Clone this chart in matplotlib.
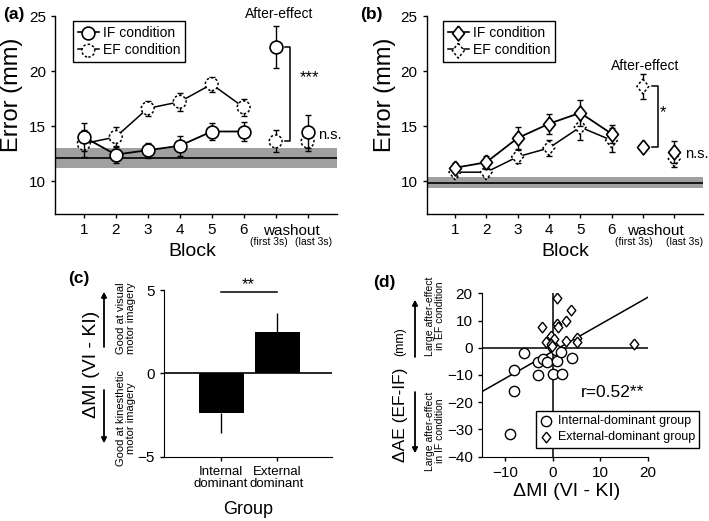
import numpy as np
import matplotlib
matplotlib.use('Agg')
from matplotlib import pyplot as plt
from matplotlib.lines import Line2D

plt.rcParams['font.family'] = ['Liberation Sans', 'DejaVu Sans']

# ---- data: panel (a), internal-dominant group (circles) ----
blocks = [1, 2, 3, 4, 5, 6]
washout_pos = [7, 8]
a_if = [14.0, 12.4, 12.8, 13.2, 14.5, 14.5]
a_if_err = [1.3, 0.8, 0.7, 0.9, 0.8, 0.9]
a_ef = [13.4, 14.0, 16.6, 17.2, 18.8, 16.7]
a_ef_err = [1.2, 0.9, 0.7, 0.8, 0.7, 0.8]
a_if_wash = [22.2, 14.5]
a_if_wash_err = [1.9, 1.5]
a_ef_wash = [13.6, 13.6]
a_ef_wash_err = [1.0, 0.9]
a_base = [12.1, 11.2, 13.0]   # mean, band low, band high

# ---- panel (b), external-dominant group (diamonds) ----
b_if = [11.2, 11.7, 13.9, 15.2, 16.2, 14.3]
b_if_err = [0.4, 0.6, 1.0, 0.9, 1.2, 0.8]
b_ef = [10.8, 10.8, 12.2, 13.0, 14.9, 13.7]
b_ef_err = [0.4, 0.4, 0.6, 0.7, 1.2, 1.1]
b_if_wash = [13.1, 12.6]
b_if_wash_err = [0.3, 1.0]
b_ef_wash = [18.6, 12.0]
b_ef_wash_err = [1.1, 0.7]
b_base = [9.85, 9.4, 10.35]

# ---- panel (c) ----
groups = ['Internal\ndominant', 'External\ndominant']
dmi_mean = [-2.4, 2.5]
dmi_err = [1.15, 1.15]

# ---- panel (d) ----
int_x = [-9.1, -8.1, -8.1, -6.1, -3.1, -3.1, -2.0, -1.3, 0.0, 0.0, 0.6, 0.9, 1.7, 2.0, 4.0]
int_y = [-31.6, -15.9, -8.3, -2.0, -9.9, -5.4, -4.0, -5.4, -9.5, 0.3, -1.0, -4.7, -1.6, -9.7, -3.7]
ext_x = [0.9, 3.9, 2.8, -2.2, 0.9, 1.0, -0.4, 0.2, -1.5, -0.4, -0.1, 2.8, 5.0, 5.0, 17.1]
ext_y = [18.2, 14.0, 9.7, 7.8, 8.7, 7.7, 4.3, 3.3, 2.1, 1.5, 0.8, 2.4, 3.7, 2.3, 1.5]
fit_slope = 0.99
fit_intercept = -1.3

W, H = 709, 521


def fx(px):
    return px / W


def fy(py):
    return 1 - py / H


diamond = [(0, 1), (0.8, 0), (0, -1), (-0.8, 0), (0, 1)]
dots = (0, (1.6, 1.4))


def course_panel(ax, mk, size, if_y, if_e, ef_y, ef_e, if_w, if_w_e, ef_w, ef_w_e, base):
    xs = blocks + washout_pos
    ax.axhspan(base[1], base[2], color='#a0a0a0', lw=0, zorder=0)
    ax.axhline(base[0], color='k', lw=1.2, zorder=1)

    ax.errorbar(xs, ef_y + ef_w, yerr=ef_e + ef_w_e, fmt='none', ecolor='k', elinewidth=1,
                capsize=2, capthick=1, zorder=2)
    ax.errorbar(xs, if_y + if_w, yerr=if_e + if_w_e, fmt='none', ecolor='k', elinewidth=1,
                capsize=2, capthick=1, zorder=4)
    ax.plot(blocks, ef_y, color='k', lw=1.1, zorder=2)
    ax.plot(blocks, if_y, color='k', lw=1.3, zorder=4)
    ef_pts = ax.scatter(xs, ef_y + ef_w, marker=mk, s=size, facecolors='white', edgecolors='k',
                        linewidths=1.1, linestyles=dots, zorder=3)
    if_pts = ax.scatter(xs, if_y + if_w, marker=mk, s=size, facecolors='white', edgecolors='k',
                        linewidths=1.2, zorder=5)

    ax.set_xlim(0.1, 8.92)
    ax.set_ylim(7, 25)
    ax.set_yticks([10, 15, 20, 25])
    ax.set_xticks(xs)
    ax.set_xticklabels(['1', '2', '3', '4', '5', '6', '', ''])
    ax.spines['top'].set_visible(False)
    ax.spines['right'].set_visible(False)
    ax.tick_params(labelsize=11, length=3, width=1)
    for s in ax.spines.values():
        s.set_linewidth(1)
    return if_pts, ef_pts


fig = plt.figure(figsize=(7.09, 5.21), dpi=100)

# ==================== (a) ====================
ax_a = fig.add_axes([fx(55), fy(214), (337 - 55) / W, (214 - 16) / H])
if_a, ef_a = course_panel(ax_a, 'o', 85, a_if, a_if_err, a_ef, a_ef_err,
                          a_if_wash, a_if_wash_err, a_ef_wash, a_ef_wash_err, a_base)
ax_a.plot([7.28, 7.45, 7.45, 7.28], [a_if_wash[0], a_if_wash[0], a_ef_wash[0], a_ef_wash[0]],
          color='k', lw=1.1)
ax_a.text(8.07, 19.4, '***', ha='center', va='center', fontsize=12)
ax_a.text(8.7, 14.2, 'n.s.', ha='center', va='center', fontsize=10.5)
ax_a.text(7.1, 25.2, 'After-effect', ha='center', va='center', fontsize=10, clip_on=False)
ax_a.legend([(Line2D([], [], color='k', lw=1.2), if_a), (Line2D([], [], color='k', lw=1.1), ef_a)],
            ['IF condition', 'EF condition'], loc='upper left', bbox_to_anchor=(fx(73), fy(21)),
            bbox_transform=fig.transFigure, borderaxespad=0, fontsize=10, frameon=True,
            fancybox=False, edgecolor='k', framealpha=1, handlelength=1.5, handletextpad=0.3,
            borderpad=0.35, labelspacing=0.25)

# ==================== (b) ====================
ax_b = fig.add_axes([fx(426.7), fy(214), (703 - 426.7) / W, (214 - 16) / H])
if_b, ef_b = course_panel(ax_b, diamond, 115, b_if, b_if_err, b_ef, b_ef_err,
                          b_if_wash, b_if_wash_err, b_ef_wash, b_ef_wash_err, b_base)
ax_b.plot([7.29, 7.48, 7.48, 7.29], [b_ef_wash[0], b_ef_wash[0], b_if_wash[0], b_if_wash[0]],
          color='k', lw=1.1)
ax_b.text(7.63, 16.2, '*', ha='center', va='center', fontsize=12)
ax_b.text(8.72, 12.45, 'n.s.', ha='center', va='center', fontsize=10.5, clip_on=False)
ax_b.text(7.06, 20.45, 'After-effect', ha='center', va='center', fontsize=10)
ax_b.legend([(Line2D([], [], color='k', lw=1.2), if_b), (Line2D([], [], color='k', lw=1.1), ef_b)],
            ['IF condition', 'EF condition'], loc='upper left', bbox_to_anchor=(fx(443), fy(21)),
            bbox_transform=fig.transFigure, borderaxespad=0, fontsize=10, frameon=True,
            fancybox=False, edgecolor='k', framealpha=1, handlelength=1.5, handletextpad=0.3,
            borderpad=0.35, labelspacing=0.25)

# washout labels and axis labels for (a) and (b)
for ax, wx, f3, l3 in [(ax_a, 7.5, 6.8, 8.2), (ax_b, 7.4, 6.72, 8.32)]:
    trans = ax.get_xaxis_transform()
    ax.text(wx, -0.086, 'washout', transform=trans, ha='center', va='center', fontsize=11)
    ax.text(f3, -0.143, '(first 3s)', transform=trans, ha='center', va='center', fontsize=7.5)
    ax.text(l3, -0.143, '(last 3s)', transform=trans, ha='center', va='center', fontsize=7.5)

fig.text(fx(192), fy(252), 'Block', ha='center', va='center', fontsize=14)
fig.text(fx(565), fy(252), 'Block', ha='center', va='center', fontsize=14)
fig.text(fx(12), fy(95), 'Error (mm)', ha='center', va='center', rotation=90, fontsize=17)
fig.text(fx(385), fy(95), 'Error (mm)', ha='center', va='center', rotation=90, fontsize=17)
fig.text(fx(3), fy(14), '(a)', ha='left', va='center', fontsize=12.5, fontweight='bold')
fig.text(fx(360), fy(14), '(b)', ha='left', va='center', fontsize=12.5, fontweight='bold')

# ==================== (c) ====================
ax_c = fig.add_axes([fx(164), fy(456.7), (332 - 164) / W, (456.7 - 290) / H])
pos = np.arange(len(groups))
ax_c.bar(pos, dmi_mean, width=0.8, color='k', zorder=2)
lower = [e if m < 0 else 0 for m, e in zip(dmi_mean, dmi_err)]
upper = [e if m > 0 else 0 for m, e in zip(dmi_mean, dmi_err)]
ax_c.errorbar(pos, dmi_mean, yerr=[lower, upper], fmt='none', ecolor='k', elinewidth=1, capsize=0, zorder=1)
ax_c.axhline(0, color='k', lw=1.2, zorder=3)
ax_c.plot([pos[0], pos[1]], [4.9, 4.9], color='k', lw=1.1, clip_on=False)
ax_c.text(0.48, 5.35, '**', ha='center', va='center', fontsize=12, clip_on=False)
ax_c.set_xlim(-1.02, 1.98)
ax_c.set_ylim(-5, 5)
ax_c.set_yticks([-5, 0, 5])
ax_c.set_xticks(pos)
ax_c.set_xticklabels(groups, fontsize=9.5, linespacing=1.05)
ax_c.tick_params(axis='y', labelsize=11)
ax_c.tick_params(length=3, width=1)
ax_c.spines['top'].set_visible(False)
ax_c.spines['right'].set_visible(False)
fig.text(fx(248), fy(510), 'Group', ha='center', va='center', fontsize=13)
fig.text(fx(92), fy(364), 'ΔMI (VI - KI)', ha='center', va='center', rotation=90, fontsize=14)
fig.text(fx(126), fy(318), 'Good at visual\nmotor imagery', ha='center', va='center',
         rotation=90, fontsize=8, linespacing=1.0)
fig.text(fx(126), fy(418), 'Good at kinesthetic\nmotor imagery', ha='center', va='center',
         rotation=90, fontsize=8, linespacing=1.0)
arrow = dict(arrowstyle='-|>', lw=1, color='k', mutation_scale=8, shrinkA=0, shrinkB=0)
fig.add_artist(plt.annotate('', xy=(fx(104), fy(292)), xytext=(fx(104), fy(347)),
                            xycoords=fig.transFigure, arrowprops=arrow))
fig.add_artist(plt.annotate('', xy=(fx(104), fy(443)), xytext=(fx(104), fy(390)),
                            xycoords=fig.transFigure, arrowprops=arrow))
fig.text(fx(68), fy(278), '(c)', ha='left', va='center', fontsize=12.5, fontweight='bold')

# ==================== (d) ====================
ax_d = fig.add_axes([fx(481.7), fy(456.7), (647.7 - 481.7) / W, (456.7 - 293.3) / H])
ax_d.axvline(0, color='k', lw=1.1, zorder=1)
ax_d.axhline(0, color='k', lw=1.1, zorder=1)
xl = np.array([-15, 20])
ax_d.plot(xl, fit_intercept + fit_slope * xl, color='k', lw=1.1, zorder=1)
ax_d.scatter(int_x, int_y, marker='o', s=55, facecolors='white', edgecolors='k', linewidths=1,
             zorder=2, label='Internal-dominant group')
ax_d.scatter(ext_x, ext_y, marker=diamond, s=60, facecolors='white', edgecolors='k', linewidths=1,
             zorder=3, label='External-dominant group')
ax_d.text(12.6, -16.4, 'r=0.52**', ha='center', va='center', fontsize=12.5)
ax_d.set_xlim(-15, 20)
ax_d.set_ylim(-40, 20)
ax_d.set_xticks([-10, 0, 10, 20])
ax_d.set_yticks([-40, -30, -20, -10, 0, 10, 20])
ax_d.tick_params(labelsize=11, length=3, width=1)
ax_d.spines['top'].set_visible(False)
ax_d.spines['right'].set_visible(False)
ax_d.legend(loc='upper left', bbox_to_anchor=(fx(535.7), fy(411)), bbox_transform=fig.transFigure,
            borderaxespad=0, fontsize=9, frameon=True, fancybox=False, edgecolor='k', framealpha=1,
            handlelength=1.0, handletextpad=0.4, borderpad=0.35, labelspacing=0.3)
fig.text(fx(567), fy(492), 'ΔMI (VI - KI)', ha='center', va='center', fontsize=14)
fig.text(fx(400), fy(415), 'ΔAE (EF-IF)', ha='center', va='center', rotation=90, fontsize=12.5)
fig.text(fx(400), fy(342), '(mm)', ha='center', va='center', rotation=90, fontsize=9)
fig.text(fx(435), fy(316), 'Large after-effect\nin EF condition', ha='center', va='center',
         rotation=90, fontsize=7.5, linespacing=1.0)
fig.text(fx(435), fy(431), 'Large after-effect\nin IF condition', ha='center', va='center',
         rotation=90, fontsize=7.5, linespacing=1.0)
fig.add_artist(plt.annotate('', xy=(fx(415), fy(300)), xytext=(fx(415), fy(357)),
                            xycoords=fig.transFigure, arrowprops=arrow))
fig.add_artist(plt.annotate('', xy=(fx(415), fy(453)), xytext=(fx(415), fy(392)),
                            xycoords=fig.transFigure, arrowprops=arrow))
fig.text(fx(373), fy(282), '(d)', ha='left', va='center', fontsize=12.5, fontweight='bold')

fig.savefig('out.png', dpi=100)
